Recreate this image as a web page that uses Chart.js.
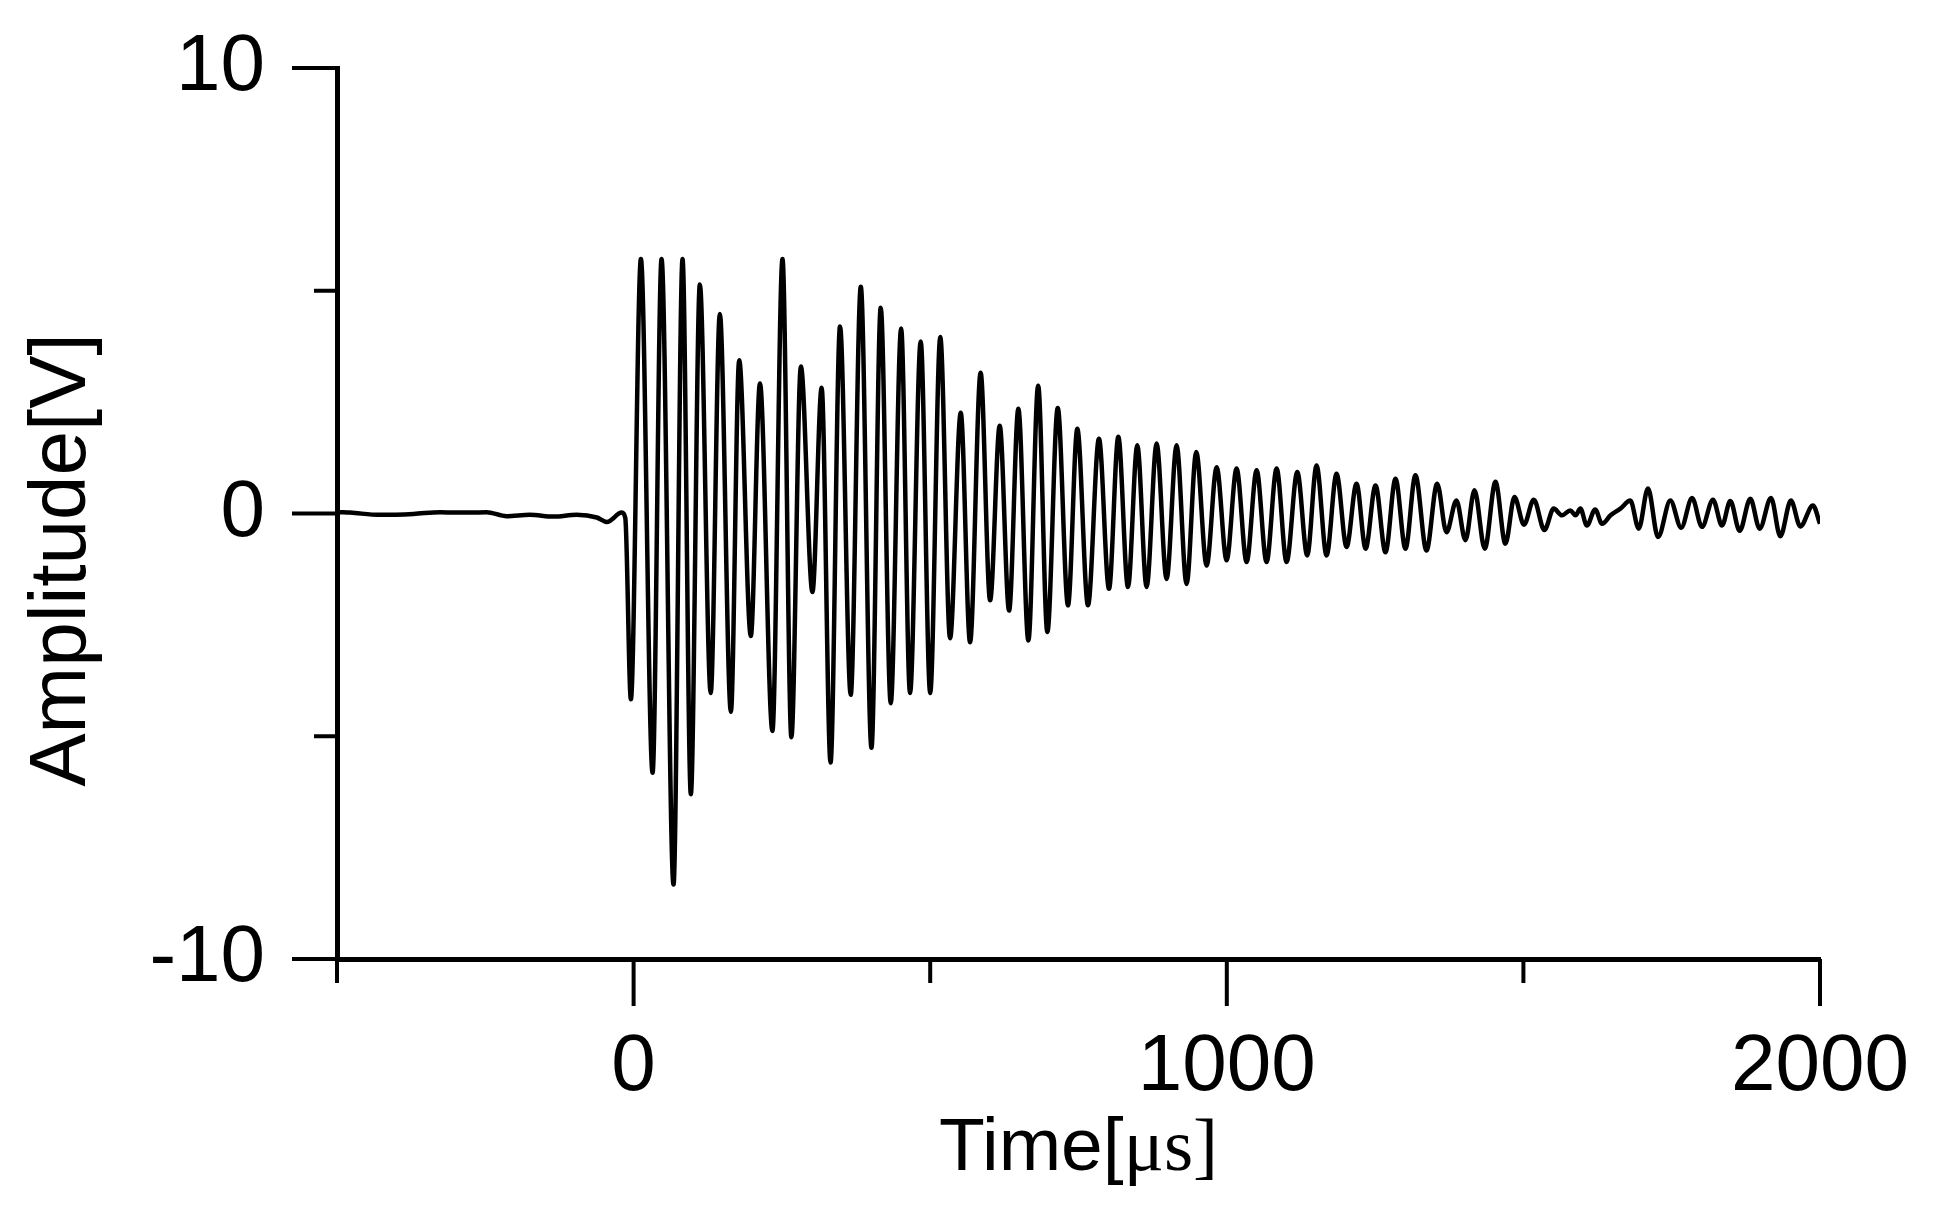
<!DOCTYPE html>
<html>
<head>
<meta charset="utf-8">
<title>Amplitude vs Time</title>
<script src="https://cdn.jsdelivr.net/npm/chart.js@4.4.1/dist/chart.umd.min.js"></script>
<style>
  html, body { margin: 0; padding: 0; background: #fff; }
  #wrap { width: 1934px; height: 1209px; position: relative; }
</style>
</head>
<body>
<div id="wrap"><canvas id="chart"></canvas></div>
<script>
// time in microseconds (peaks and troughs)
let timeUs = [
  -495, -478, -428, -371, -326, -287, -248, -214, -175, -135, -96, -62, -45, -20, -14,
  -4.6, 12.3, 32, 47.1, 67.3, 82.5, 96.5, 111.7, 130, 145.4, 164, 178, 197.6, 213,
  234, 251, 266, 282, 301.5, 317, 332, 348, 366, 383, 401, 416.6, 433.5, 451, 466,
  484, 500, 517, 533.5, 551.5, 567.2, 585, 601, 617.2, 633, 648.6, 665.5, 682, 697.5, 715,
  732.3, 748, 766, 784.5, 801.4, 817.1, 833.4, 849.1, 864.8, 881.7, 898.5, 915.4, 932.2, 948.5, 966,
  982.9, 999.7, 1016.5, 1033.4, 1050.3, 1067, 1084, 1100.8, 1118.8, 1135.6, 1151.3, 1168.2, 1185, 1201.9, 1218.7, 1234,
  1250.7, 1267.5, 1284.4, 1301.2, 1318, 1336.6, 1354.6, 1370.3, 1387.1, 1402.3, 1417.5, 1434.9, 1452.9, 1469.7, 1484.9, 1501,
  1517.5, 1535.4, 1551, 1565, 1579, 1588, 1596, 1607, 1621, 1632.6, 1647, 1663.5, 1680.3, 1694.4, 1710, 1727, 1747.7, 1766,
  1784.3, 1801.1, 1819.6, 1834.8, 1848.8, 1864.6, 1882.5, 1898.3, 1917.4, 1933.1, 1951, 1966.8, 1988.1, 2000
];

// amplitude in volts, same order as timeUs
let amplitudeV = [
  0.03, 0.02, -0.03, -0.01, 0.03, 0.02, 0.03, -0.06, -0.03, -0.07, -0.03, -0.09, -0.19, 0.02, -0.1,
  -4.17, 5.71, -5.82, 5.71, -8.33, 5.71, -6.30, 5.14, -4.03, 4.48, -4.45, 3.44, -2.75, 2.92,
  -4.88, 5.71, -5.02, 3.30, -1.76, 2.82, -5.59, 4.20, -4.07, 5.09, -5.26, 4.62, -4.26, 4.15, -4.03,
  3.86, -4.03, 3.96, -2.80, 2.26, -2.89, 3.16, -1.95, 1.97, -2.18, 2.35, -2.85, 2.87, -2.66, 2.37,
  -2.06, 1.90, -2.06, 1.68, -1.69, 1.72, -1.65, 1.53, -1.65, 1.57, -1.47, 1.53, -1.58, 1.38, -1.17,
  1.04, -1.05, 1.01, -1.09, 0.97, -1.09, 1.01, -1.09, 0.93, -0.94, 1.08, -0.94, 0.89, -0.75, 0.67, -0.79,
  0.63, -0.87, 0.78, -0.79, 0.86, -0.83, 0.67, -0.42, 0.29, -0.60, 0.52, -0.79, 0.71, -0.68, 0.37, -0.25,
  0.31, -0.37, 0.11, -0.04, 0.07, -0.04, 0.11, -0.27, 0.09, -0.23, -0.04, 0.11, 0.29, -0.34, 0.56, -0.53, 0.29, -0.32,
  0.35, -0.30, 0.31, -0.27, 0.28, -0.39, 0.33, -0.34, 0.35, -0.51, 0.29, -0.29, 0.18, -0.23
];

// axes
let xMin = -500, xMax = 2000, xStep = 500;
let yMin = -10, yMax = 10, yStep = 5;
let xLabelTicks = [0, 1000, 2000];
let yLabelTicks = [-10, 0, 10];
let xTitleSans = "Time[";
let xTitleSerif = "\u03bcs]";
let yTitle = "Amplitude[V]";

let sans = "'Liberation Sans', Arial, sans-serif";
let serif = "'Liberation Serif', 'Times New Roman', serif";

let points = timeUs.map(function (t, i) { return { x: t, y: amplitudeV[i] }; });

// tick marks (long for labelled ticks, short for the others) and axis titles
let axisDecor = {
  id: "axisDecor",
  afterDraw: function (chart) {
    let ctx = chart.ctx;
    let area = chart.chartArea;
    let xs = chart.scales.x, ys = chart.scales.y;

    ctx.save();
    ctx.strokeStyle = "#000";
    ctx.lineWidth = 4;
    ctx.lineCap = "butt";

    xs.ticks.forEach(function (tk) {
      let px = xs.getPixelForValue(tk.value);
      let len = xLabelTicks.includes(tk.value) ? 47 : 24;
      ctx.beginPath();
      ctx.moveTo(px, area.bottom);
      ctx.lineTo(px, area.bottom + len);
      ctx.stroke();
    });

    ys.ticks.forEach(function (tk) {
      let py = ys.getPixelForValue(tk.value);
      let len = yLabelTicks.includes(tk.value) ? 45 : 23;
      ctx.beginPath();
      ctx.moveTo(area.left, py);
      ctx.lineTo(area.left - len, py);
      ctx.stroke();
    });

    // x title: sans part + serif part, centred under the axis
    ctx.fillStyle = "#000";
    ctx.textBaseline = "alphabetic";
    ctx.textAlign = "left";
    ctx.font = "75px " + sans;
    let w1 = ctx.measureText(xTitleSans).width;
    ctx.font = "75px " + serif;
    let w2 = ctx.measureText(xTitleSerif).width;
    let cx = (area.left + area.right) / 2;
    let startX = cx - (w1 + w2) / 2;
    let baseY = 1170;
    ctx.font = "75px " + sans;
    ctx.fillText(xTitleSans, startX, baseY);
    ctx.font = "75px " + serif;
    ctx.fillText(xTitleSerif, startX + w1, baseY);

    // y title, rotated
    ctx.translate(63, 560);
    ctx.rotate(-Math.PI / 2);
    ctx.font = "80px " + sans;
    ctx.textAlign = "center";
    ctx.textBaseline = "middle";
    ctx.fillText(yTitle, 0, 0);

    ctx.restore();
  }
};

let hidden = "rgba(0,0,0,0)";

let chart = new Chart(document.getElementById("chart"), {
  type: "line",
  data: {
    datasets: [{
      label: "Amplitude",
      data: points,
      borderColor: "#000",
      borderWidth: 4.5,
      pointRadius: 0,
      cubicInterpolationMode: "monotone",
      fill: false
    }]
  },
  options: {
    responsive: true,
    maintainAspectRatio: false,
    animation: false,
    layout: { padding: { left: 0, top: 68, right: 114, bottom: 0 } },
    plugins: {
      legend: { display: false },
      tooltip: { enabled: false }
    },
    scales: {
      x: {
        type: "linear",
        min: xMin,
        max: xMax,
        afterFit: function (s) { s.height = 250; },
        // tick space is kept by tickLength, the marks themselves come from axisDecor
        grid: { drawOnChartArea: false, drawTicks: true, tickLength: 53, tickColor: hidden },
        border: { display: true, color: "#000", width: 5 },
        ticks: {
          stepSize: xStep,
          autoSkip: false,
          maxRotation: 0,
          padding: 8,
          color: "#000",
          font: { family: sans, size: 80 },
          callback: function (v) { return xLabelTicks.includes(v) ? String(v) : ""; }
        }
      },
      y: {
        type: "linear",
        min: yMin,
        max: yMax,
        afterFit: function (s) { s.width = 337; },
        grid: { drawOnChartArea: false, drawTicks: true, tickLength: 64, tickColor: hidden },
        border: { display: true, color: "#000", width: 5 },
        ticks: {
          stepSize: yStep,
          autoSkip: false,
          padding: 8,
          color: "#000",
          font: { family: sans, size: 80 },
          callback: function (v) { return yLabelTicks.includes(v) ? String(v) : ""; }
        }
      }
    }
  },
  plugins: [axisDecor]
});
</script>
</body>
</html>
